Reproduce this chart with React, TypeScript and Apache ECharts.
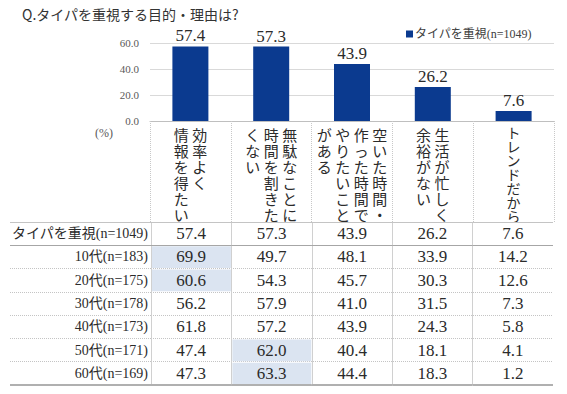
import React, { useEffect, useRef } from 'react';
import * as echarts from 'echarts';

// ---------- data ----------
const chartTitle = 'Q.タイパを重視する目的・理由は?';
const seriesName = 'タイパを重視(n=1049)';
const unitLabel = '(%)';

// category labels, written vertically: each entry lists its columns (right to left)
const categoryColumns: string[][] = [
  ['効率よく', '情報を得たい'],
  ['無駄なことに', '時間を割きた', 'くない'],
  ['空いた時間・', '作った時間で', 'やりたいこと', 'がある'],
  ['生活が忙しく', '余裕がない'],
  ['トレンドだから'],
];
const categories = categoryColumns.map((c) => c.join(''));

const overallValues = [57.4, 57.3, 43.9, 26.2, 7.6];
const yMin = 0;
const yMax = 60;
const yInterval = 20;

const rowLabels = [
  'タイパを重視(n=1049)',
  '10代(n=183)',
  '20代(n=175)',
  '30代(n=178)',
  '40代(n=173)',
  '50代(n=171)',
  '60代(n=169)',
];
const age10 = [69.9, 49.7, 48.1, 33.9, 14.2];
const age20 = [60.6, 54.3, 45.7, 30.3, 12.6];
const age30 = [56.2, 57.9, 41.0, 31.5, 7.3];
const age40 = [61.8, 57.2, 43.9, 24.3, 5.8];
const age50 = [47.4, 62.0, 40.4, 18.1, 4.1];
const age60 = [47.3, 63.3, 44.4, 18.3, 1.2];
const tableRows = [overallValues, age10, age20, age30, age40, age50, age60];

// highlighted cells: [column, row]
const highlightedCells: [number, number][] = [
  [0, 1],
  [0, 2],
  [1, 5],
  [1, 6],
];

// ---------- styles ----------
const SERIF = "'Liberation Serif', 'Noto Sans CJK JP', serif";
const GOTHIC = "'Noto Sans CJK JP', 'Noto Sans', sans-serif";
const BAR_COLOR = '#0b3a8f';
const HL_COLOR = '#dbe4f1';
const TEXT = '#2b2b2b';
const TABLE_LEFT = 10;

const buildVertical = (cols: string[]) => {
  const lens = cols.map((c) => Array.from(c).length);
  const maxLen = Math.max(...lens);
  const style = maxLen > 6 ? 'v2' : 'v1';
  const ordered = [...cols].reverse();
  const lines: string[] = [];
  for (let i = 0; i < maxLen; i++) {
    lines.push(
      ordered
        .map((c) => {
          const ch = Array.from(c)[i];
          return `{${style}|${ch === undefined ? '　' : ch}}`;
        })
        .join('')
    );
  }
  return lines.join('\n');
};

export default function App() {
  const ref = useRef<HTMLDivElement>(null);

  useEffect(() => {
    if (!ref.current) return;
    const chart = echarts.init(ref.current, undefined, { renderer: 'svg' });

    const isHL = (c: number, r: number) =>
      highlightedCells.some(([hc, hr]) => hc === c && hr === r);
    const cellData: number[][] = [];
    tableRows.forEach((vals, r) =>
      vals.forEach((v, c) => cellData.push([c, r, v, isHL(c, r) ? 1 : 0]))
    );
    const lastRow = tableRows.length - 1;

    const option: any = {
      animation: false,
      backgroundColor: '#ffffff',
      title: {
        text: chartTitle,
        left: 22,
        top: 7,
        padding: 0,
        textStyle: { fontSize: 14, fontWeight: 'normal', color: '#333', fontFamily: GOTHIC },
      },
      legend: {
        data: [seriesName],
        left: 406,
        top: 28,
        padding: 0,
        icon: 'rect',
        itemWidth: 7,
        itemHeight: 7,
        textStyle: { fontSize: 12, color: '#404040', fontFamily: SERIF, padding: [0, 0, 0, -3] },
      },
      grid: [
        { left: 150, right: 13, top: 43, bottom: 273 },
        { left: 151, right: 14, top: 222, bottom: 9 },
      ],
      xAxis: [
        {
          type: 'category',
          gridIndex: 0,
          data: categories,
          axisLine: { lineStyle: { color: '#bfbfbf', width: 1 } },
          axisTick: {
            show: true,
            interval: 0,
            length: 101,
            lineStyle: { color: '#c8c8c8', type: 'dotted' },
          },
          axisLabel: {
            interval: 0,
            margin: 53,
            verticalAlign: 'middle',
            formatter: (_v: string, i: number) => buildVertical(categoryColumns[i]),
            rich: {
              v1: {
                fontSize: 15,
                lineHeight: 16,
                width: 18.5,
                align: 'center',
                fontFamily: GOTHIC,
                color: TEXT,
              },
              v2: {
                fontSize: 14,
                lineHeight: 14,
                width: 18.5,
                align: 'center',
                fontFamily: GOTHIC,
                color: TEXT,
              },
            },
          },
        },
        {
          type: 'category',
          gridIndex: 1,
          data: categories,
          position: 'top',
          axisLine: { show: false },
          axisTick: { show: false },
          axisLabel: { show: false },
          splitLine: {
            show: true,
            interval: 0,
            showMaxLine: false,
            lineStyle: { color: '#d0d0d0', width: 1 },
          },
        },
      ],
      yAxis: [
        {
          type: 'value',
          gridIndex: 0,
          min: yMin,
          max: yMax,
          interval: yInterval,
          axisLine: { show: false },
          axisTick: { show: false },
          axisLabel: {
            margin: 11,
            fontSize: 11,
            color: '#595959',
            fontFamily: SERIF,
            formatter: (v: number) => v.toFixed(1),
          },
          splitLine: { lineStyle: { color: '#d9d9d9', width: 1 } },
        },
        {
          type: 'category',
          gridIndex: 1,
          inverse: true,
          data: rowLabels,
          axisLine: { show: false },
          axisTick: {
            show: true,
            interval: 0,
            length: 151 - TABLE_LEFT,
            lineStyle: { color: '#c4c4c4', type: 'dotted' },
          },
          axisLabel: {
            margin: 3,
            fontSize: 14,
            color: TEXT,
            fontFamily: SERIF,
          },
          splitLine: {
            show: true,
            interval: 0,
            lineStyle: { color: '#c4c4c4', type: 'dotted' },
          },
        },
      ],
      graphic: [
        {
          type: 'text',
          left: 95,
          top: 127,
          style: { text: unitLabel, fontSize: 12, fill: '#595959', fontFamily: SERIF },
        },
      ],
      series: [
        {
          name: seriesName,
          type: 'bar',
          xAxisIndex: 0,
          yAxisIndex: 0,
          data: overallValues,
          barWidth: 36,
          itemStyle: { color: BAR_COLOR },
          label: {
            show: true,
            position: 'top',
            distance: 2,
            fontSize: 17,
            color: TEXT,
            fontFamily: SERIF,
            formatter: (p: any) => Number(p.value).toFixed(1),
          },
        },
        {
          type: 'custom',
          xAxisIndex: 1,
          yAxisIndex: 1,
          clip: false,
          encode: { x: 0, y: 1 },
          data: cellData,
          renderItem: (_params: any, api: any) => {
            const col = api.value(0);
            const row = api.value(1);
            const val = api.value(2);
            const hl = api.value(3);
            const [cx, cy] = api.coord([col, row]);
            const [w, h] = api.size([1, 1]);
            const left = cx - w / 2;
            const top = cy - h / 2;
            const children: any[] = [];
            if (hl) {
              children.push({
                type: 'rect',
                shape: { x: left + 1, y: top + 1, width: w - 1.5, height: h - 1.5 },
                style: { fill: HL_COLOR },
              });
            }
            children.push({
              type: 'text',
              x: cx,
              y: cy,
              style: {
                text: Number(val).toFixed(1),
                align: 'center',
                verticalAlign: 'middle',
                fontSize: 17,
                fontFamily: SERIF,
                fill: TEXT,
              },
            });
            const start = col === 0 ? TABLE_LEFT : left;
            if (row === 0) {
              children.push({
                type: 'line',
                shape: { x1: start, y1: Math.round(top) + 0.5, x2: left + w, y2: Math.round(top) + 0.5 },
                style: { stroke: '#c4c4c4', lineWidth: 1 },
              });
              children.push({
                type: 'line',
                shape: { x1: start, y1: Math.round(top + h) + 0.5, x2: left + w, y2: Math.round(top + h) + 0.5 },
                style: { stroke: '#a6a6a6', lineWidth: 1 },
              });
            }
            if (row === lastRow) {
              children.push({
                type: 'line',
                shape: { x1: start, y1: Math.round(top + h), x2: left + w, y2: Math.round(top + h) },
                style: { stroke: '#b0b0b0', lineWidth: 2 },
              });
            }
            return { type: 'group', children };
          },
        },
      ],
    };

    chart.setOption(option);
    return () => chart.dispose();
  }, []);

  return (
    <div
      ref={ref}
      style={{ position: 'fixed', left: 0, top: 0, width: 567, height: 394, background: '#fff' }}
    />
  );
}
